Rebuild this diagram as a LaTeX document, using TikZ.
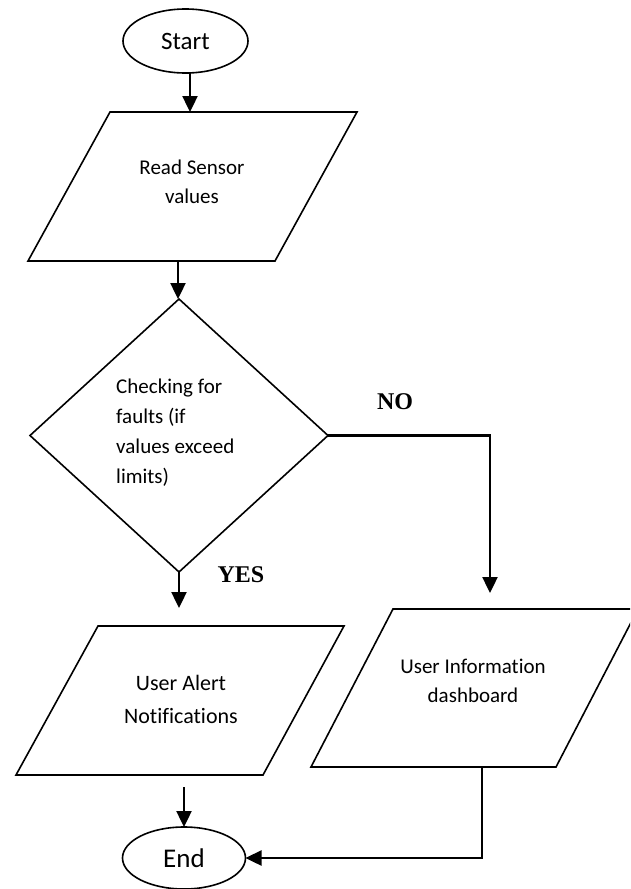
\documentclass[tikz,border=0pt]{standalone}
\usepackage{fontspec}
\setmainfont{Carlito}[Ligatures={NoCommon}]
\newfontfamily\lblfont{Liberation Serif}
\usetikzlibrary{shapes.geometric,arrows.meta}
\begin{document}
\begin{tikzpicture}[x=1pt,y=-1pt,
  shp/.style={draw,line width=1.6pt},
  term/.style={shp,ellipse,inner sep=0pt,outer sep=0pt},
  arr/.style={line width=2.4pt,-{Triangle[width=15pt,length=16pt]}},
  lbl/.style={font=\lblfont\bfseries\fontsize{24}{27}\selectfont,inner sep=0pt},
  txt/.style={align=center,inner sep=0pt}]
\useasboundingbox (0,0) rectangle (630,889);
\clip (0,0) rectangle (630,889);

% Start
\node[term,minimum width=125pt,minimum height=64pt] (start) at (185.5,41) {\fontsize{25}{30}\selectfont Start};

% Read sensor values
\draw[shp] (110,112) -- (357,112) -- (275,261) -- (28,261) -- cycle;
\node[txt,font=\fontsize{21}{29}\selectfont] (read) at (192,182) {Read Sensor\\values};
\coordinate (p1in) at (190,112);
\coordinate (p1out) at (178,261);

% Decision
\node[shp,diamond,minimum width=298pt,minimum height=273pt,inner sep=0pt,outer sep=0pt] (dia) at (179,435.5) {};
\node[align=left,inner sep=0pt,anchor=west,font=\fontsize{21}{30}\selectfont] (check) at (116,433) {Checking for\\faults (if\\values exceed\\limits)};

% User alert
\draw[shp] (98,626) -- (344,626) -- (263,775) -- (16,775) -- cycle;
\node[txt,font=\fontsize{22}{33}\selectfont] (alert) at (181,699) {User Alert\\Notifications};
\coordinate (p2in) at (178,626);
\coordinate (p2out) at (184,775);

% User information
\draw[shp] (393,609) -- (638,609) -- (556,767) -- (311,767) -- cycle;
\node[txt,font=\fontsize{21}{29}\selectfont] (info) at (473,681) {User Information\\dashboard};
\coordinate (p3in) at (490,609);
\coordinate (p3out) at (482,767);

% End
\node[term,minimum width=123pt,minimum height=62pt] (end) at (184,858) {\fontsize{27}{30}\selectfont End};

% Connectors
\draw[arr] (start.south -| p1in) -- (p1in);
\draw[arr] (p1out) -- (p1out |- dia.north);
\draw[arr,shorten >=18pt] (dia.south) -- (dia.south |- p2in);
\draw[arr,shorten >=16pt] (dia.east) -| (p3in);
\draw[arr,shorten <=12pt] (p2out) -- (p2out |- end.north);
\draw[arr] (p3out) |- (end.east);

% Labels
\node[lbl] (no) at (395,402) {NO};
\node[lbl] (yes) at (241,575) {YES};
\end{tikzpicture}
\end{document}
